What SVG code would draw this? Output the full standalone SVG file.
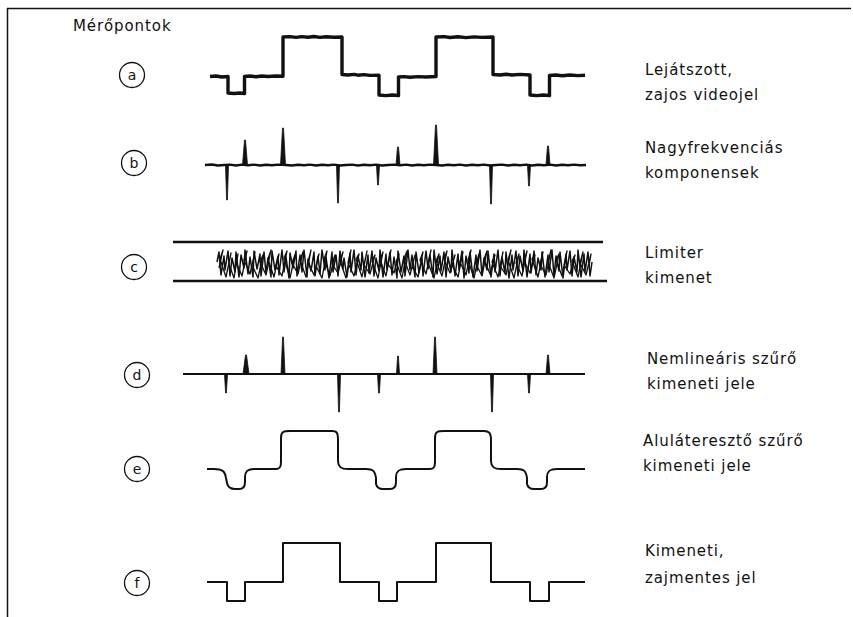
<svg xmlns="http://www.w3.org/2000/svg" width="853" height="617" viewBox="0 0 853 617">
<style>
.lbl{font-family:"DejaVu Sans","Liberation Sans",sans-serif;font-size:15px;letter-spacing:0.9px;fill:#111}
.cl{font-family:"DejaVu Sans","Liberation Sans",sans-serif;font-size:14px;fill:#111;text-anchor:middle}
.circ{fill:none;stroke:#111;stroke-width:1.3}
.sig{fill:none;stroke:#111;stroke-linejoin:round;stroke-linecap:butt}
.spk{fill:#111;stroke:#111;stroke-width:0.8}
</style>
<rect width="853" height="617" fill="#fff"/>
<g id="frame" fill="none" stroke="#111" stroke-width="1.5">
<line x1="7" y1="8.5" x2="851" y2="8.5"/>
<line x1="7.5" y1="8" x2="7.5" y2="617"/>
</g>
<text class="lbl" x="73" y="31">Mérőpontok</text>

<g id="row-a">
<circle class="circ" cx="132" cy="75" r="12.5"/>
<text class="cl" x="132" y="80">a</text>
<path class="sig" stroke-width="3.4" d="M210,76.5 L216,76 L222,77 L228,76.5 L228,93 L234,93.5 L240,93 L244.5,93.5 L244.5,76.5 L250,76 L256,76.8 L262,76 L268,76.5 L276,76 L283,76.3 L283,37 L290,36.6 L296,37.4 L302,36.6 L308,37.3 L314,36.5 L320,37.4 L326,36.7 L334,37.3 L342,37 L342,74.5 L348,75 L354,74.4 L358,75.2 L364,74.6 L370,75.4 L379,75.2 L379,95 L386,95.6 L392,95 L398.5,95.5 L398.5,77 L404,76.6 L410,77.2 L418,76.6 L426,77 L436,76.5 L436,37 L444,36.6 L450,37.5 L458,36.8 L466,37.6 L474,36.9 L482,37.4 L493,37 L493,74.5 L500,75 L506,74.2 L512,75 L520,74.4 L530,75 L530,95 L537,95.6 L543,95 L549.5,95.5 L549.5,75.5 L556,75 L562,75.8 L570,75 L578,75.6 L585,75.3"/>
<text class="lbl" x="645" y="75">Lejátszott,</text>
<text class="lbl" x="645" y="100">zajos videojel</text>
</g>

<g id="row-b">
<circle class="circ" cx="134" cy="163" r="12.5"/>
<text class="cl" x="134" y="168">b</text>
<path class="sig" stroke-width="2.4" d="M205,165 L212,164.5 L218,165.5 L224,165 L230,164.6 L236,165.5 L242,164.6 L248,165.3 L254,164.6 L260,165.5 L266,164.7 L272,165.3 L278,164.6 L286,165 L292,165.5 L298,164.7 L304,165.3 L310,164.6 L316,165.5 L322,164.7 L328,165.3 L334,164.6 L340,165.5 L346,165 L352,164.6 L358,165.5 L364,164.7 L370,165.3 L376,164.6 L382,165.5 L388,165 L394,164.6 L400,165.3 L406,164.6 L412,165.5 L418,164.7 L424,165.3 L430,164.6 L436,165 L442,165.5 L448,164.7 L454,165.3 L460,164.6 L466,165.5 L472,164.7 L478,165.3 L484,164.6 L490,165.5 L496,165 L502,164.6 L508,165.5 L514,164.7 L520,165.3 L526,164.6 L532,165.5 L538,164.7 L544,165.3 L550,164.6 L556,165.5 L562,164.7 L568,165.3 L574,164.6 L580,165.3 L586,165"/>
<path class="spk" d="M225.5,165 L226.6,200 L227.4,200 L228.5,165Z M242.5,165 L244.5,140 L245.5,140 L247.5,165Z M280.5,165 L282.5,128 L283.5,128 L285.5,165Z M336.5,165 L337.6,203 L338.4,203 L339.5,165Z M376.5,165 L377.6,185 L378.4,185 L379.5,165Z M396,165 L397.5,147 L398.5,147 L400,165Z M433.5,165 L435.5,125 L436.5,125 L438.5,165Z M489.5,165 L490.6,204 L491.4,204 L492.5,165Z M527.5,165 L528.6,186 L529.4,186 L530.5,165Z M546,165 L547.5,146 L548.5,146 L550,165Z"/>
<text class="lbl" x="645" y="153">Nagyfrekvenciás</text>
<text class="lbl" x="645" y="178">komponensek</text>
</g>

<g id="row-c">
<circle class="circ" cx="134" cy="267" r="12.5"/>
<text class="cl" x="134" y="272">c</text>
<line x1="173" y1="242" x2="603" y2="242" stroke="#111" stroke-width="2.5"/>
<line x1="173" y1="281" x2="607" y2="281" stroke="#111" stroke-width="2.5"/>
<polyline class="sig" stroke-width="1.5" points="217,262 219,252 221,275 224,256 225,270 228,251 230,276 232,258 235,272 236,252 239,277 241,255 244,268 245,250 248,274 250,257 253,277 254,251 257,269 260,254 261,276 264,252 266,273 268,258 271,277 272,251 275,270 278,256 279,275 282,250 284,272 286,257 289,278 290,253 293,268 296,251 297,276 300,255 302,272 304,250 307,277 308,259 311,271 314,252 315,276 318,256 320,274 322,250 325,270 326,257 329,278 332,252 333,272 336,255 338,276 340,251 343,269 344,258 347,277 350,253 351,272 354,250 356,275 358,256 361,270 362,252 365,277 368,255 369,273 372,251 374,276 376,258 379,271 380,250 383,277 386,254 387,270 390,252 392,275 394,257 397,278 398,251 401,272 404,256 405,276 408,250 410,270 412,255 415,277 416,252 419,273 422,258 423,276 426,251 428,269 430,255 433,277 434,250 437,274 440,256 441,271 444,252 446,277 448,257 451,272 452,250 455,276 458,254 459,270 462,251 464,278 466,256 469,273 470,252 473,277 476,255 477,271 480,250 482,275 484,258 487,270 488,251 491,277 494,254 495,272 498,250 500,276 502,257 505,273 506,252 509,278 512,255 513,270 516,251 518,276 520,256 523,271 524,250 527,277 530,254 531,273 534,251 536,275 538,258 541,270 542,252 545,277 548,255 549,272 552,250 554,276 556,256 559,271 560,252 563,278 566,254 567,270 570,251 572,276 574,257 577,272 578,250 581,277 584,254 585,272 588,252 590,276 592,262"/>
<polyline class="sig" stroke-width="1.3" points="219,268 223,250 220,259 226,277 231,253 229,264 234,278 238,254 236,262 242,276 247,251 244,260 250,274 255,252 252,265 258,278 263,255 260,262 266,275 271,250 268,259 274,277 279,254 276,266 282,276 287,251 284,258 290,278 295,255 292,263 298,274 303,252 300,260 306,277 311,250 308,262 314,275 319,254 316,266 322,278 327,251 324,259 330,276 335,255 332,264 338,273 343,252 340,261 346,278 351,250 348,263 354,276 359,254 356,259 362,277 367,251 364,265 370,274 375,255 372,261 378,278 383,252 380,260 386,276 391,250 388,264 394,273 399,254 396,262 402,278 407,251 404,259 410,275 415,255 412,266 418,277 423,252 420,260 426,274 431,250 428,263 434,278 439,254 436,261 442,276 447,251 444,259 450,273 455,255 452,265 458,277 463,252 460,262 466,275 471,250 468,260 474,278 479,254 476,264 482,276 487,251 484,259 490,274 495,255 492,262 498,277 503,252 500,266 506,275 511,250 508,260 514,278 519,254 516,263 522,276 527,251 524,261 530,273 535,255 532,259 538,277 543,252 540,264 546,275 551,250 548,262 554,278 559,254 556,260 562,276 567,251 564,265 570,274 575,255 572,261 578,277 583,252 580,263 586,275 591,254 589,266"/>
<text class="lbl" x="645" y="258">Limiter</text>
<text class="lbl" x="645" y="283">kimenet</text>
</g>

<g id="row-d">
<circle class="circ" cx="137" cy="375" r="12.5"/>
<text class="cl" x="137" y="380">d</text>
<line x1="183" y1="374" x2="585" y2="374" stroke="#111" stroke-width="2"/>
<path class="spk" d="M224.5,374 L225.6,393 L226.4,393 L227.5,374Z M243,374 L245.5,355 L246.5,355 L249,374Z M281,374 L282.6,337 L283.4,337 L285,374Z M337.5,374 L338.6,412 L339.4,412 L340.5,374Z M377.5,374 L378.6,393 L379.4,393 L380.5,374Z M396.5,374 L397.6,356 L398.4,356 L399.5,374Z M433,374 L434.6,337 L435.4,337 L437,374Z M490.5,374 L491.6,412 L492.4,412 L493.5,374Z M527.5,374 L528.6,393 L529.4,393 L530.5,374Z M546,374 L547.6,355 L548.4,355 L550,374Z"/>
<text class="lbl" x="647" y="364">Nemlineáris szűrő</text>
<text class="lbl" x="647" y="389">kimeneti jele</text>
</g>

<g id="row-e">
<circle class="circ" cx="137" cy="469" r="12.5"/>
<text class="cl" x="137" y="474">e</text>
<path class="sig" stroke-width="2" d="M207,469 L214,469 C222,469 225,471 226,478 L227,483 C228,488 231,489 235,489 L239,489 C243,489 245,487 245,482 L245,477 C245,471 248,469 254,469 L276,469 C280,469 281,467 281,462 L281,438 C281,432 283,431 290,431 L332,431 C337,431 338,433 338,440 L338,461 C338,467 341,469 348,469 L366,469 C373,469 375,471 376,478 L376,484 C377,488 379,489 383,489 L390,489 C394,489 396,487 396,482 L396,477 C396,471 399,469 406,469 L430,469 C434,469 435,467 435,462 L435,438 C435,432 437,431 444,431 L484,431 C489,431 491,433 491,440 L491,461 C491,467 494,469 501,469 L517,469 C524,469 526,471 527,478 L527,484 C528,488 530,489 534,489 L541,489 C545,489 547,487 547,482 L547,477 C547,471 550,469 557,469 L585,469"/>
<text class="lbl" x="643" y="446">Aluláteresztő szűrő</text>
<text class="lbl" x="643" y="471">kimeneti jele</text>
</g>

<g id="row-f">
<circle class="circ" cx="137" cy="583" r="12.5"/>
<text class="cl" x="137" y="588">f</text>
<path class="sig" stroke-width="2" d="M207,582 L227,582 L227,601 L245,601 L245,582 L283,582 L283,543 L340,543 L340,582 L379,582 L379,601 L397,601 L397,582 L436,582 L436,543 L491,543 L491,582 L530,582 L530,601 L549,601 L549,582 L585,582"/>
<text class="lbl" x="645" y="556">Kimeneti,</text>
<text class="lbl" x="645" y="583">zajmentes jel</text>
</g>
</svg>
